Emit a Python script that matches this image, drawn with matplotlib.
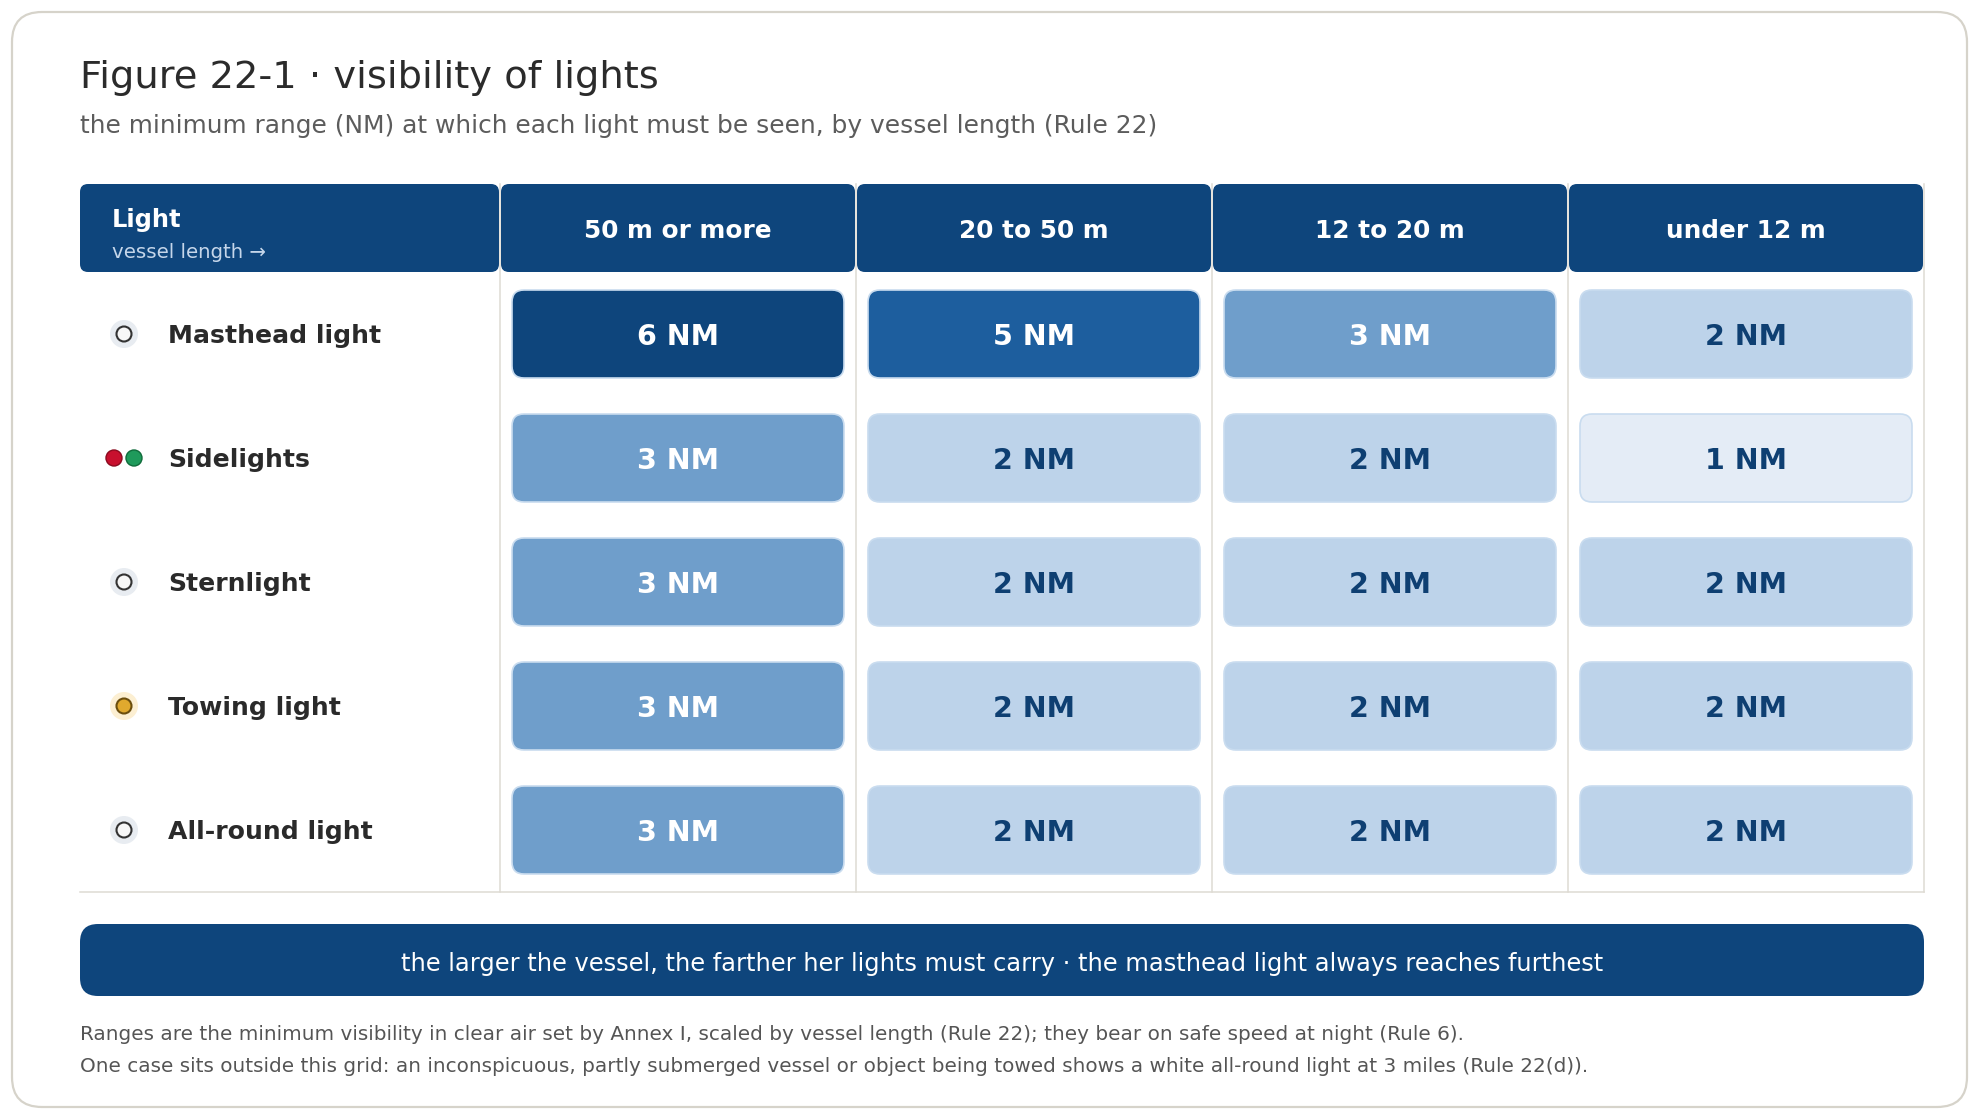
import matplotlib.pyplot as plt
from matplotlib.patches import FancyBboxPatch, Circle

title = "Figure 22-1 · visibility of lights"
subtitle = "the minimum range (NM) at which each light must be seen, by vessel length (Rule 22)"
lengths = ["50 m or more", "20 to 50 m", "12 to 20 m", "under 12 m"]
lights = ["Masthead light", "Sidelights", "Sternlight", "Towing light", "All-round light"]
icons = ["white", "sides", "white", "yellow", "white"]
ranges_nm = [
    [6, 5, 3, 2],
    [3, 2, 2, 1],
    [3, 2, 2, 2],
    [3, 2, 2, 2],
    [3, 2, 2, 2],
]
banner = ("the larger the vessel, the farther her lights must carry \u00b7 "
          "the masthead light always reaches furthest")
notes = [
    "Ranges are the minimum visibility in clear air set by Annex I, scaled by vessel length (Rule 22); "
    "they bear on safe speed at night (Rule 6).",
    "One case sits outside this grid: an inconspicuous, partly submerged vessel or object being towed "
    "shows a white all-round light at 3 miles (Rule 22(d)).",
]

# colours by range
fill = {6: '#0e457c', 5: '#1d5e9e', 3: '#6f9ecb', 2: '#bdd3ea', 1: '#e4ecf6'}
navy = '#0e457c'
grid_c = '#dedbd3'

W, H = 1980, 1120
fig = plt.figure(figsize=(W / 100, H / 100), dpi=100)
ax = fig.add_axes([0, 0, 1, 1])
ax.set_xlim(0, W)
ax.set_ylim(H, 0)
ax.axis('off')


def rbox(x, y, w, h, r, fc, ec='none', lw=0, z=2):
    ax.add_patch(FancyBboxPatch((x, y), w, h, boxstyle=f"round,pad=0,rounding_size={r}",
                                fc=fc, ec=ec, lw=lw, zorder=z))


# card
rbox(12, 12, 1955, 1095, 30, 'white', '#d6d3ca', 1.6, z=0)

ax.text(80, 88, title, fontsize=27.6, color='#2b2b2b', va='baseline')
ax.text(80, 133, subtitle, fontsize=17.9, color='#5c5c5c', va='baseline')

# table geometry
left, first_w, col_w = 80, 420, 356
head_top, head_bot = 184, 272
row_h = 124
col_edges = [left + first_w + i * col_w for i in range(len(lengths) + 1)]
grid_bot = head_bot + row_h * len(lights)

for xe in col_edges:
    ax.plot([xe, xe], [head_top, grid_bot], color=grid_c, lw=1.1, zorder=1)
ax.plot([left, col_edges[-1]], [grid_bot, grid_bot], color=grid_c, lw=1.1, zorder=1)

# header
rbox(left, head_top, first_w - 1, head_bot - head_top, 8, navy)
ax.text(112, 227, "Light", fontsize=17.4, fontweight='bold', color='white', va='baseline', zorder=3)
ax.text(112, 258, "vessel length \u2192", fontsize=14.2, color='#c5d6ea', va='baseline', zorder=3)
for j, lab in enumerate(lengths):
    x0 = col_edges[j]
    rbox(x0 + 1, head_top, col_w - 2, head_bot - head_top, 8, navy)
    ax.text(x0 + col_w / 2, (head_top + head_bot) / 2, lab, fontsize=17.8, fontweight='bold',
            color='white', ha='center', va='center_baseline', zorder=3)

# rows
for i, (name, icon) in enumerate(zip(lights, icons)):
    cy = head_bot + row_h * i + row_h / 2
    ix = 124
    if icon == 'sides':
        ax.add_patch(Circle((ix - 10, cy), 8, fc='#c8102e', ec='#8a0a1e', lw=1, zorder=3))
        ax.add_patch(Circle((ix + 10, cy), 8, fc='#1f9a5b', ec='#0f6b3a', lw=1, zorder=3))
    else:
        halo, core, edge = (('#fcefd2', '#e0a92e', '#6b4e0e') if icon == 'yellow'
                            else ('#e8ecf1', '#f7f7f7', '#333333'))
        ax.add_patch(Circle((ix, cy), 14, fc=halo, ec='none', zorder=3))
        ax.add_patch(Circle((ix, cy), 7.5, fc=core, ec=edge, lw=1.5, zorder=4))
    ax.text(168, cy, name, fontsize=18.1, fontweight='bold', color='#2a2a2a',
            va='center_baseline', zorder=3)

    for j, v in enumerate(ranges_nm[i]):
        x0 = col_edges[j] + 12
        rbox(x0, cy - 44, col_w - 24, 88, 12, fill[v], '#c9dcef', 1.2)
        ax.text(x0 + (col_w - 24) / 2, cy, f"{v} NM", fontsize=20.5, fontweight='bold',
                color='white' if v >= 3 else '#0e3f72', ha='center', va='center_baseline', zorder=3)

# banner
rbox(left, 924, col_edges[-1] - left, 72, 18, navy)
ax.text((left + col_edges[-1]) / 2, 961, banner, fontsize=17.4, color='white',
        ha='center', va='center_baseline', zorder=3)

for k, n in enumerate(notes):
    ax.text(80, 1040 + 32 * k, n, fontsize=14.4, color='#555555', va='baseline')

fig.savefig('out.png', dpi=100)
